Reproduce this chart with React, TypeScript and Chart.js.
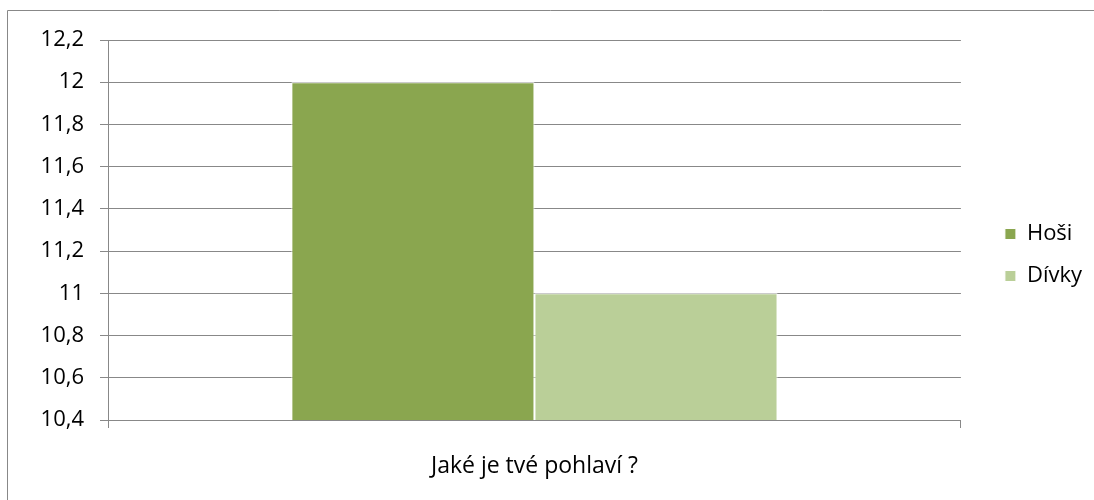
import React, { useEffect, useRef } from "react";
import { Chart, registerables } from "chart.js";

Chart.register(...registerables);

const categories = ["Jaké je tvé pohlaví ?"];
const seriesNames = ["Hoši", "Dívky"];
const hosiValues = [12];
const divkyValues = [11];
const seriesColors = ["#8AA64F", "#BACF98"];
const yMin = 10.4;
const yMax = 12.2;
const yStep = 0.2;

const FONT = "'Open Sans', 'DejaVu Sans', sans-serif";
const FS = 22;
const GRID = "#888888";

const framePlugin = {
  id: "frame",
  beforeDraw(chart: any) {
    const ctx = chart.ctx;
    ctx.save();
    ctx.strokeStyle = GRID;
    ctx.lineWidth = 1;
    ctx.beginPath();
    ctx.moveTo(7.5, chart.height);
    ctx.lineTo(7.5, 10.5);
    ctx.lineTo(chart.width, 10.5);
    ctx.stroke();
    ctx.restore();
  },
};

export default function App() {
  const ref = useRef<HTMLCanvasElement | null>(null);

  useEffect(() => {
    if (!ref.current) return;
    const chart = new Chart(ref.current, {
      type: "bar",
      data: {
        labels: categories,
        datasets: [
          {
            label: seriesNames[0],
            data: hosiValues,
            backgroundColor: seriesColors[0],
            borderColor: "#ffffff",
            borderWidth: 1,
          },
          {
            label: seriesNames[1],
            data: divkyValues,
            backgroundColor: seriesColors[1],
            borderColor: "#ffffff",
            borderWidth: 1,
          },
        ],
      },
      options: {
        responsive: false,
        animation: false,
        devicePixelRatio: 1,
        layout: { padding: { left: 8, top: 29, bottom: 19, right: 2 } },
        datasets: {
          bar: { barPercentage: 1, categoryPercentage: 0.57 },
        },
        font: { family: FONT, size: FS },
        scales: {
          x: {
            type: "category",
            offset: true,
            grid: {
              offset: true,
              drawOnChartArea: false,
              tickLength: 8,
              color: GRID,
            },
            border: { color: GRID },
            ticks: { color: "#000", padding: 25, font: { family: FONT, size: 23 } },
            afterFit: (s: any) => {
              s.height = 61;
            },
          },
          xTop: {
            type: "linear",
            axis: "x",
            position: "top",
            display: true,
            grid: { display: false },
            border: { display: false },
            ticks: { display: false },
            afterFit: (s: any) => {
              s.height = 11;
            },
          },
          y: {
            type: "linear",
            min: yMin,
            max: yMax,
            grid: { color: GRID, tickLength: 8 },
            border: { color: GRID },
            ticks: {
              stepSize: yStep,
              color: "#000",
              padding: 16,
              font: { family: FONT, size: FS },
              callback: (v: any) => String(Number(Number(v).toFixed(1))).replace(".", ","),
            },
            afterFit: (s: any) => {
              s.width = 100;
            },
          },
          yR: {
            type: "linear",
            axis: "y",
            position: "right",
            display: true,
            grid: { display: false },
            border: { display: false },
            ticks: { display: false },
            afterFit: (s: any) => {
              s.width = 24;
            },
          },
        },
        plugins: {
          legend: {
            position: "right",
            labels: {
              boxWidth: 11,
              boxHeight: 11,
              padding: 20,
              color: "#000",
              font: { family: FONT, size: FS },
            },
          },
          tooltip: { enabled: false },
          title: { display: false },
        },
      },
      plugins: [framePlugin],
    });
    return () => chart.destroy();
  }, []);

  return (
    <div style={{ position: "absolute", left: 0, top: 0, width: 1094, height: 500, background: "#fff" }}>
      <canvas ref={ref} width={1094} height={500} style={{ display: "block" }} />
    </div>
  );
}
